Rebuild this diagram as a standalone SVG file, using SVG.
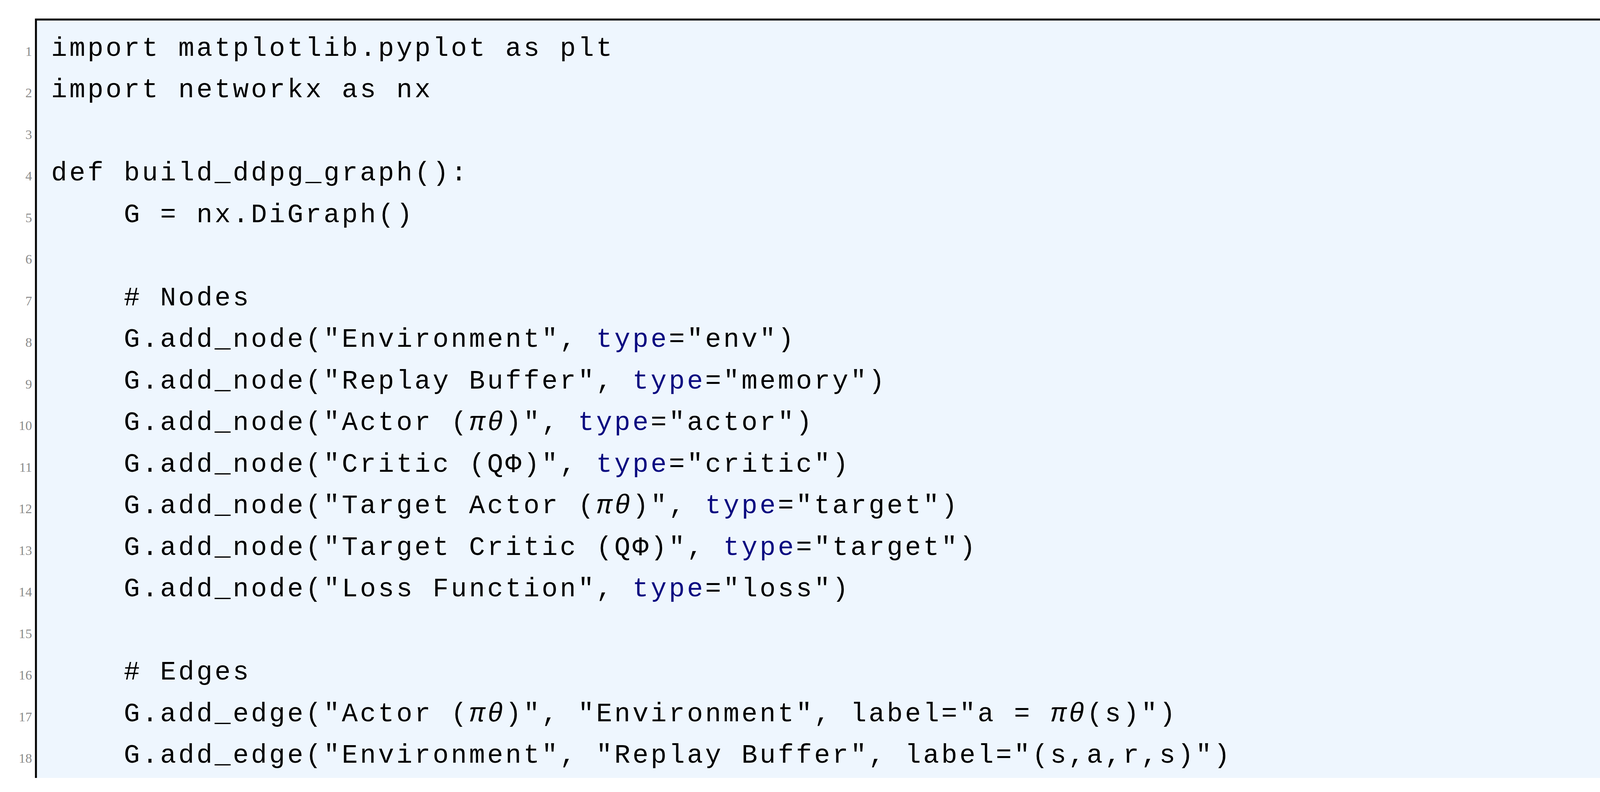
<svg xmlns="http://www.w3.org/2000/svg" width="4359" height="2028" viewBox="0 0 4359 2028">
<style>
.c{font-family:"Liberation Mono",monospace;font-size:68px;letter-spacing:5.7px;fill:#000;white-space:pre}
.n{font-family:"Liberation Serif",serif;font-size:34px;fill:#8a8a8a;text-anchor:end}
.k{fill:#0a0a80}
.g{font-style:italic}
</style>
<rect x="0" y="0" width="4359" height="2028" fill="#fff"/>
<rect x="92" y="50" width="4239" height="1942" fill="#eef6fe"/>
<path d="M92,1992 V50 H4331 V1992" fill="none" stroke="#000" stroke-width="5"/>
<g id="linenos">
<text class="n" x="82" y="143">1</text><text class="n" x="82" y="249">2</text><text class="n" x="82" y="356">3</text><text class="n" x="82" y="462">4</text><text class="n" x="82" y="569">5</text><text class="n" x="82" y="675">6</text><text class="n" x="82" y="782">7</text><text class="n" x="82" y="888">8</text><text class="n" x="82" y="995">9</text><text class="n" x="82" y="1101">10</text><text class="n" x="82" y="1208">11</text><text class="n" x="82" y="1314">12</text><text class="n" x="82" y="1421">13</text><text class="n" x="82" y="1527">14</text><text class="n" x="82" y="1634">15</text><text class="n" x="82" y="1740">16</text><text class="n" x="82" y="1847">17</text><text class="n" x="82" y="1953">18</text>
</g>
<g id="code" xml:space="preserve">
<text class="c" x="131" y="143">import matplotlib.pyplot as plt</text>
<text class="c" x="131" y="249">import networkx as nx</text>
<text class="c" x="131" y="462">def build_ddpg_graph():</text>
<text class="c" x="131" y="569">    G = nx.DiGraph()</text>
<text class="c" x="131" y="782">    # Nodes</text>
<text class="c" x="131" y="888">    G.add_node("Environment", <tspan class="k">type</tspan>="env")</text>
<text class="c" x="131" y="995">    G.add_node("Replay Buffer", <tspan class="k">type</tspan>="memory")</text>
<text class="c" x="131" y="1101">    G.add_node("Actor (<tspan class="g">πθ</tspan>)", <tspan class="k">type</tspan>="actor")</text>
<text class="c" x="131" y="1208">    G.add_node("Critic (QΦ)", <tspan class="k">type</tspan>="critic")</text>
<text class="c" x="131" y="1314">    G.add_node("Target Actor (<tspan class="g">πθ</tspan>)", <tspan class="k">type</tspan>="target")</text>
<text class="c" x="131" y="1421">    G.add_node("Target Critic (QΦ)", <tspan class="k">type</tspan>="target")</text>
<text class="c" x="131" y="1527">    G.add_node("Loss Function", <tspan class="k">type</tspan>="loss")</text>
<text class="c" x="131" y="1740">    # Edges</text>
<text class="c" x="131" y="1847">    G.add_edge("Actor (<tspan class="g">πθ</tspan>)", "Environment", label="a = <tspan class="g">πθ</tspan>(s)")</text>
<text class="c" x="131" y="1953">    G.add_edge("Environment", "Replay Buffer", label="(s,a,r,s)")</text>
</g>
</svg>
